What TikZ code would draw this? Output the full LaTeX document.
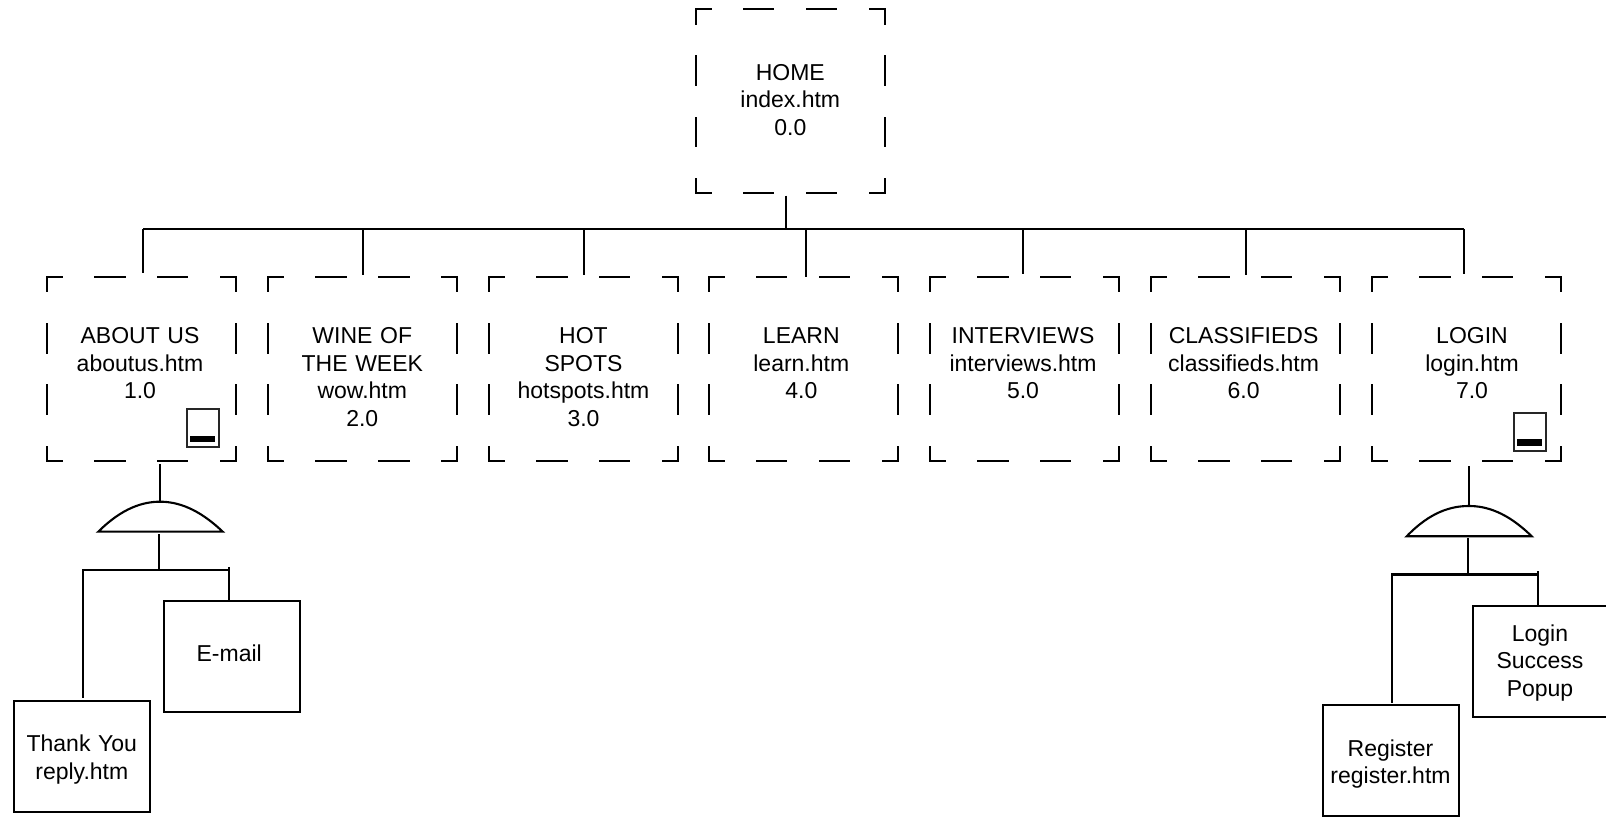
\documentclass[tikz,border=0pt]{standalone}
\usepackage{fontspec}
\setmainfont{Liberation Sans}
\begin{document}
\begin{tikzpicture}[
    x=0.5pt, y=-0.5pt,
    hside/.style={draw, line width=1.05pt, line cap=rect, dash pattern=on 14.65pt off 16.75pt, dash phase=7.325pt},
    vside/.style={draw, line width=1.05pt, line cap=rect, dash pattern=on 14.3pt off 16.4pt, dash phase=7.15pt},
    pagebox/.style={inner sep=0pt, outer sep=0pt, text width=94.5pt, align=center, text height=33.4pt, text depth=58.6pt,
        font=\fontsize{11.5}{13.75}\selectfont,
        append after command={
            (\tikzlastnode.north west) edge[hside] (\tikzlastnode.north east)
            (\tikzlastnode.south west) edge[hside] (\tikzlastnode.south east)
            (\tikzlastnode.north west) edge[vside] (\tikzlastnode.south west)
            (\tikzlastnode.north east) edge[vside] (\tikzlastnode.south east)}},
    subbox/.style={rectangle, draw, line width=1.05pt, inner sep=0pt, outer sep=0pt, text width=68pt, align=center,
        text height=25.5pt, text depth=30pt, font=\fontsize{11.5}{13.75}\selectfont},
    textleft/.style={execute at begin node={\advance\rightskip by #1}},
    textright/.style={execute at begin node={\advance\leftskip by #1}},
    wire/.style={draw, line width=1.05pt},
    pageicon/.style={rectangle, draw=black!85, line width=1pt, inner sep=0pt, outer sep=0pt, minimum width=15.8pt, minimum height=19pt},
    iconbar/.style={rectangle, fill=black, inner sep=0pt, outer sep=0pt, minimum width=12.6pt, minimum height=3.2pt},
]
\useasboundingbox (0,0) rectangle (1606,817);

\node[pagebox, text height=35.6pt, text depth=56.1pt] (home) at (790.3,101) {HOME\\index.htm\\0.0};
\node[pagebox, textleft=1.5pt] (about) at (141.5,369) {ABOUT US\\aboutus.htm\\1.0};
\node[pagebox, textleft=0.5pt] (wine) at (362.8,369) {WINE OF\\THE WEEK\\wow.htm\\2.0};
\node[pagebox] (spots) at (583.5,369) {HOT\\SPOTS\\hotspots.htm\\3.0};
\node[pagebox, textleft=2pt] (learn) at (803.3,369) {LEARN\\learn.htm\\4.0};
\node[pagebox, textleft=1.5pt] (inter) at (1024.5,369) {INTERVIEWS\\interviews.htm\\5.0};
\node[pagebox, textleft=2pt] (class) at (1245.6,369) {CLASSIFIEDS\\classifieds.htm\\6.0};
\node[pagebox, textright=5.5pt] (login) at (1466.5,369) {LOGIN\\login.htm\\7.0};

\node[pageicon] (abouticon) at (203,428.5) {};
\node[iconbar] (aboutbar) at (202.5,438.9) {};
\node[pageicon] (loginicon) at (1530.2,432.5) {};
\node[iconbar] (loginbar) at (1529.5,442.5) {};

\node[subbox, textleft=3pt, text height=30.4pt, text depth=25.3pt] (email) at (232.2,656.6) {E-mail};
\node[subbox, textleft=0.5pt] (thanks) at (82.3,756.2) {Thank You\\reply.htm};
\node[subbox, textleft=1pt, text height=17.7pt, text depth=37.9pt] (popup) at (1541,661.2) {Login\\Success\\Popup};
\node[subbox, textleft=0.5pt] (register) at (1391,760.5) {Register\\register.htm};

\coordinate (bus1) at (143.4,229);
\coordinate (bus2) at (362.6,229);
\coordinate (bus3) at (583.8,229);
\coordinate (bus4) at (805.7,229);
\coordinate (bus5) at (1023.2,229);
\coordinate (bus6) at (1246.4,229);
\coordinate (bus7) at (1464.4,229);
\coordinate (busmid) at (786,229);
\coordinate (aboutleft) at (98.3,531.7);
\coordinate (abouttop) at (160,501.7);
\coordinate (aboutright) at (222.7,531.7);
\coordinate (aboutbus) at (159,570);
\coordinate (aboutbusl) at (82,570);
\coordinate (aboutbusr) at (229,570);
\coordinate (aboutdrop) at (83,570);
\coordinate (loginleft) at (1406.7,536.3);
\coordinate (logintop) at (1469,506);
\coordinate (loginright) at (1531.7,536.3);
\coordinate (loginbus) at (1468,574.5);
\coordinate (loginbusl) at (1391,574.5);
\coordinate (loginbusr) at (1538,574.5);
\coordinate (logindrop) at (1392.3,574.5);

\draw[wire, shorten <=1.5pt] (home.south -| busmid) -- (busmid);
\draw[wire] (bus1) -- (bus7);
\draw[wire, shorten >=1.8pt] (bus1) -- (bus1 |- about.north);
\draw[wire, shorten >=1pt] (bus2) -- (bus2 |- wine.north);
\draw[wire, shorten >=1pt] (bus3) -- (bus3 |- spots.north);
\draw[wire] (bus4) -- (bus4 |- learn.north);
\draw[wire, shorten >=1.6pt] (bus5) -- (bus5 |- inter.north);
\draw[wire, shorten >=1pt] (bus6) -- (bus6 |- class.north);
\draw[wire, shorten >=1.4pt] (bus7) -- (bus7 |- login.north);

\draw[wire, shorten <=1.5pt] (about.south -| abouttop) -- (abouttop);
\draw[wire] (aboutleft) .. controls (122,508) and (143,501.7) .. (abouttop) .. controls (177,501.7) and (198,508) .. (aboutright) -- cycle;
\draw[wire, shorten <=1.2pt] (aboutbus |- aboutleft) -- (aboutbus);
\draw[wire] (aboutbusl) -- (aboutbusr);
\draw[wire, shorten >=1.3pt] (aboutdrop) -- (aboutdrop |- thanks.north);
\draw[wire, shorten <=-1.5pt] (aboutbusr) -- (aboutbusr |- email.north);

\draw[wire, shorten <=2.7pt] (login.south -| logintop) -- (logintop);
\draw[wire] (loginleft) .. controls (1430,512) and (1451,506) .. (logintop) .. controls (1486,506) and (1507,512) .. (loginright) -- cycle;
\draw[wire, shorten <=1pt] (loginbus |- loginleft) -- (loginbus);
\draw[wire] (loginbusl) -- (loginbusr);
\draw[wire, shorten >=1.2pt] (logindrop) -- (logindrop |- register.north);
\draw[wire, shorten <=-1.5pt] (loginbusr) -- (loginbusr |- popup.north);
\end{tikzpicture}
\end{document}
